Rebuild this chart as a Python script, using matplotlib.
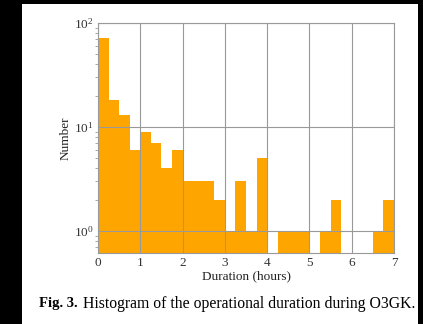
import matplotlib
matplotlib.use("Agg")
import matplotlib.pyplot as plt
import numpy as np
from matplotlib.patches import Rectangle

plt.rcParams['font.family'] = ['Liberation Serif', 'DejaVu Serif']
plt.rcParams['mathtext.fontset'] = 'stix'

# histogram counts, 0.25 h bins from 0 to 7 h
bin_edges = np.arange(0, 7.01, 0.25)
counts = [71, 18, 13, 6, 9, 7, 4, 6, 3, 3, 3, 2, 1, 3, 1, 5,
          0, 1, 1, 1, 0, 1, 2, 0, 0, 0, 1, 2]

fig = plt.figure(figsize=(4.23, 3.24), dpi=100, facecolor='black')
fig.patches.append(Rectangle((22/423, 0), 396/423, 320/324, transform=fig.transFigure,
                             facecolor='white', edgecolor='none', zorder=-5))

ax = fig.add_axes([98/423, 71/324, 296/423, 230/324])
ax.hist(bin_edges[:-1], bins=bin_edges, weights=counts, color='#FFA500', log=True, zorder=1)
ax.set_xlim(0, 7)
ax.set_ylim(0.614, 100)
ax.set_xticks(range(8))
ax.grid(True, color='#999999', linewidth=0.8, zorder=2)
ax.set_axisbelow(False)
for s in ax.spines.values():
    s.set_color('#999999')
    s.set_linewidth(0.8)
ax.tick_params(which='both', length=0, labelsize=9.5, pad=3, labelcolor='#333333')
ax.tick_params(axis='y', which='minor', length=2, color='#999999')
ax.set_xlabel('Duration (hours)', fontsize=9.5, labelpad=1, color='#222222')
ax.set_ylabel('Number', fontsize=9.5, labelpad=2, color='#222222')

fig.text(39/423, 1 - 304/324, r'Fig. 3.', fontsize=10.5, fontweight='bold', va='center', ha='left')
fig.text(83/423, 1 - 304/324, 'Histogram of the operational duration during O3GK.',
         fontsize=11.3, va='center', ha='left')

fig.savefig('out.png', dpi=100, facecolor=fig.get_facecolor())
